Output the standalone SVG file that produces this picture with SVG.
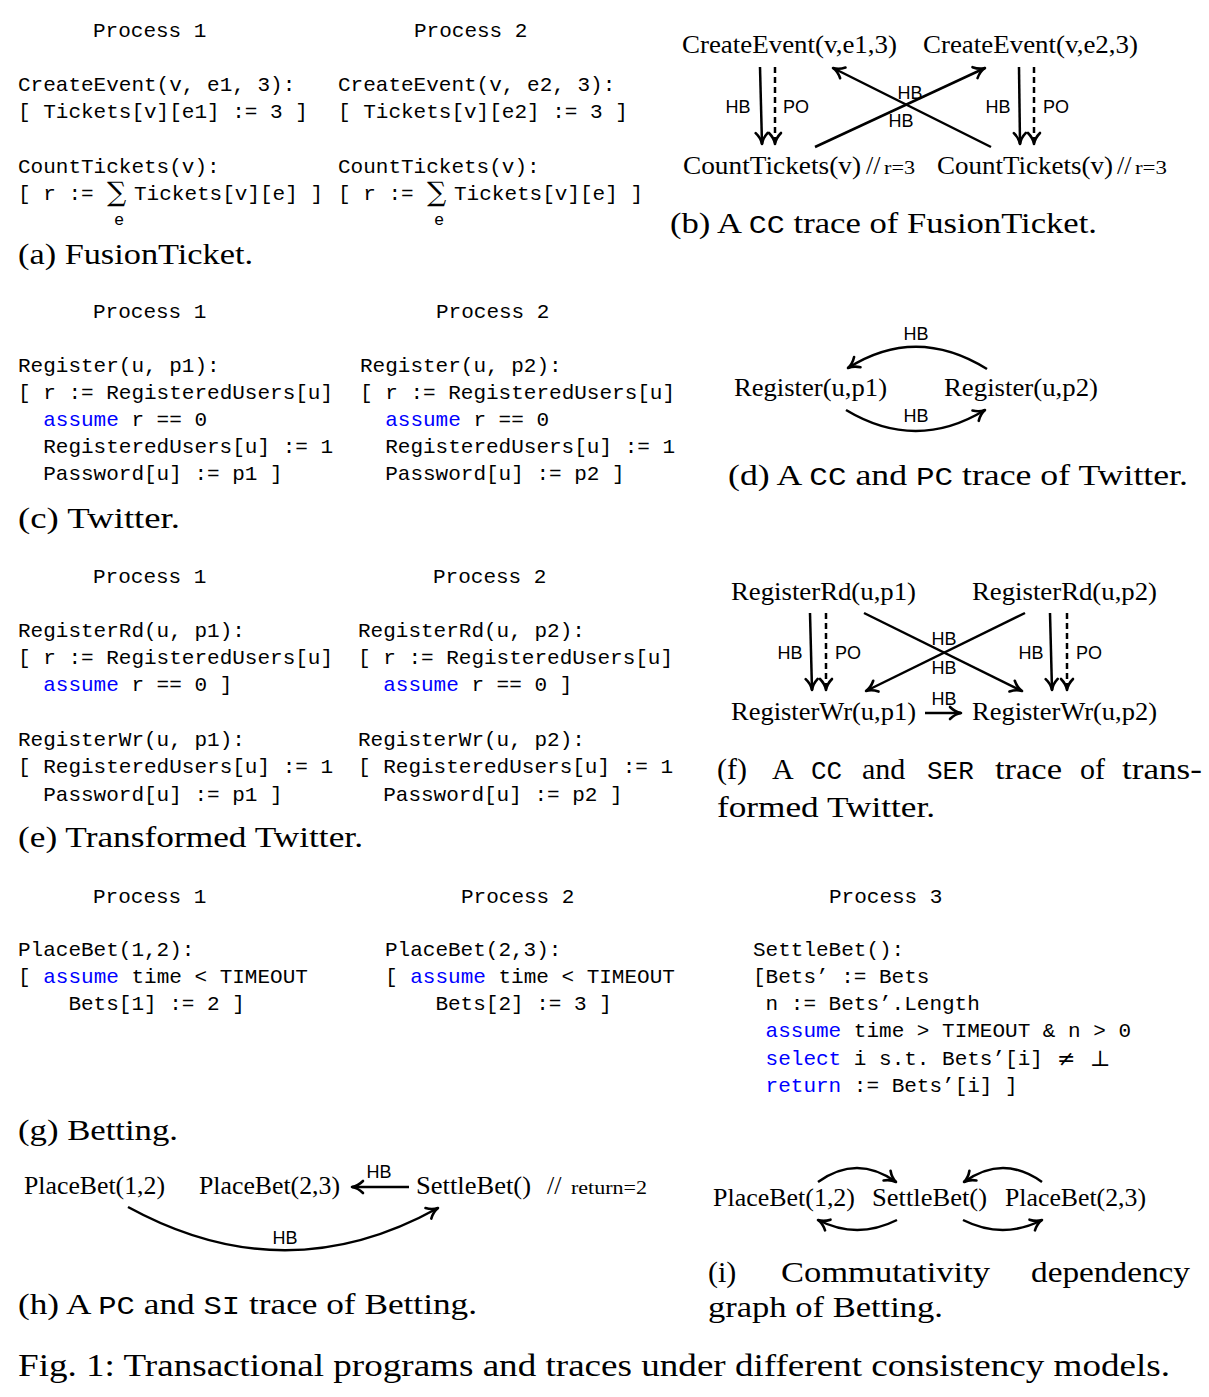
<svg xmlns="http://www.w3.org/2000/svg" width="1209" height="1397" viewBox="0 0 1209 1397" xml:space="preserve">
<style>
.m{font-family:"Liberation Mono",monospace;font-size:21px;fill:#000}
.kw{fill:#0000ff}
.s{font-family:"Liberation Serif",serif;fill:#000}
.cap{font-family:"Liberation Serif",serif;font-size:30px;fill:#000}
.mc{font-family:"Liberation Mono",monospace;font-size:26px}
.n{font-family:"Liberation Serif",serif;font-size:26px;fill:#000}
.lb{font-family:"Liberation Sans",sans-serif;font-size:18px;fill:#000;text-anchor:middle}
.sum{font-family:"DejaVu Serif",serif;font-size:27px;fill:#000}
.e{fill:none;stroke:#000;stroke-width:2.5;marker-end:url(#ah)}
.d{stroke-dasharray:6 4}
</style>
<defs>
<marker id="ah" markerUnits="userSpaceOnUse" markerWidth="16" markerHeight="16" viewBox="0 0 16 16" refX="14" refY="8" orient="auto">
<path d="M3,2 Q8,7 14,8 Q8,9 3,14" fill="none" stroke="#000" stroke-width="2.6" stroke-linecap="round" stroke-linejoin="round"/>
</marker>
</defs>
<rect width="1209" height="1397" fill="#fff"/>

<!-- (a) FusionTicket code -->
<g id="a-code">
<text class="m" x="93" y="37">Process 1</text>
<text class="m" x="414" y="37">Process 2</text>
<text class="m" x="18" y="91">CreateEvent(v, e1, 3):</text>
<text class="m" x="18" y="118">[ Tickets[v][e1] := 3 ]</text>
<text class="m" x="18" y="173">CountTickets(v):</text>
<text class="m" x="18" y="200">[ r := </text>
<text class="sum" x="107" y="201">∑</text>
<text class="m" x="134" y="200">Tickets[v][e] ]</text>
<text class="m" x="114" y="225" style="font-size:17px">e</text>
<text class="m" x="338" y="91">CreateEvent(v, e2, 3):</text>
<text class="m" x="338" y="118">[ Tickets[v][e2] := 3 ]</text>
<text class="m" x="338" y="173">CountTickets(v):</text>
<text class="m" x="338" y="200">[ r := </text>
<text class="sum" x="427" y="201">∑</text>
<text class="m" x="454" y="200">Tickets[v][e] ]</text>
<text class="m" x="434" y="225" style="font-size:17px">e</text>
<text class="cap" x="18" y="264" textLength="235" lengthAdjust="spacingAndGlyphs">(a) FusionTicket.</text>
</g>

<!-- (b) trace nodes -->
<g id="b-ce1"><text class="n" x="682" y="53" textLength="215" lengthAdjust="spacingAndGlyphs">CreateEvent(v,e1,3)</text></g>
<g id="b-ce2"><text class="n" x="923" y="53" textLength="215" lengthAdjust="spacingAndGlyphs">CreateEvent(v,e2,3)</text></g>
<g id="b-ct1"><text class="n" x="683" y="174" textLength="178" lengthAdjust="spacingAndGlyphs">CountTickets(v)</text><text class="n" x="866" y="174">//</text><text class="s" x="884" y="174" style="font-size:18px" textLength="31" lengthAdjust="spacingAndGlyphs">r=3</text></g>
<g id="b-ct2"><text class="n" x="937" y="174" textLength="176" lengthAdjust="spacingAndGlyphs">CountTickets(v)</text><text class="n" x="1117" y="174">//</text><text class="s" x="1135" y="174" style="font-size:18px" textLength="32" lengthAdjust="spacingAndGlyphs">r=3</text></g>
<g id="b-caption"><text class="cap" x="670" y="233" textLength="427" lengthAdjust="spacingAndGlyphs">(b) A <tspan class="mc">CC</tspan> trace of FusionTicket.</text></g>

<!-- (c) Twitter code -->
<g id="c-code">
<text class="m" x="93" y="318">Process 1</text>
<text class="m" x="436" y="318">Process 2</text>
<text class="m" x="18" y="372">Register(u, p1):</text>
<text class="m" x="18" y="399">[ r := RegisteredUsers[u]</text>
<text class="m" x="43.2" y="426"><tspan class="kw">assume</tspan> r == 0</text>
<text class="m" x="43.2" y="453">RegisteredUsers[u] := 1</text>
<text class="m" x="43.2" y="480">Password[u] := p1 ]</text>
<text class="m" x="360" y="372">Register(u, p2):</text>
<text class="m" x="360" y="399">[ r := RegisteredUsers[u]</text>
<text class="m" x="385.2" y="426"><tspan class="kw">assume</tspan> r == 0</text>
<text class="m" x="385.2" y="453">RegisteredUsers[u] := 1</text>
<text class="m" x="385.2" y="480">Password[u] := p2 ]</text>
<text class="cap" x="18" y="528" textLength="162" lengthAdjust="spacingAndGlyphs">(c) Twitter.</text>
</g>

<!-- (d) trace nodes -->
<g id="d-r1"><text class="n" x="734" y="396" textLength="153" lengthAdjust="spacingAndGlyphs">Register(u,p1)</text></g>
<g id="d-r2"><text class="n" x="944" y="396" textLength="154" lengthAdjust="spacingAndGlyphs">Register(u,p2)</text></g>
<g id="d-caption"><text class="cap" x="728" y="485" textLength="460" lengthAdjust="spacingAndGlyphs">(d) A <tspan class="mc">CC</tspan> and <tspan class="mc">PC</tspan> trace of Twitter.</text></g>

<!-- (e) Transformed Twitter code -->
<g id="e-code">
<text class="m" x="93" y="583">Process 1</text>
<text class="m" x="433" y="583">Process 2</text>
<text class="m" x="18" y="637">RegisterRd(u, p1):</text>
<text class="m" x="18" y="664">[ r := RegisteredUsers[u]</text>
<text class="m" x="43.2" y="691"><tspan class="kw">assume</tspan> r == 0 ]</text>
<text class="m" x="18" y="746">RegisterWr(u, p1):</text>
<text class="m" x="18" y="773">[ RegisteredUsers[u] := 1</text>
<text class="m" x="43.2" y="801">Password[u] := p1 ]</text>
<text class="m" x="358" y="637">RegisterRd(u, p2):</text>
<text class="m" x="358" y="664">[ r := RegisteredUsers[u]</text>
<text class="m" x="383.2" y="691"><tspan class="kw">assume</tspan> r == 0 ]</text>
<text class="m" x="358" y="746">RegisterWr(u, p2):</text>
<text class="m" x="358" y="773">[ RegisteredUsers[u] := 1</text>
<text class="m" x="383.2" y="801">Password[u] := p2 ]</text>
<text class="cap" x="18" y="847" textLength="345" lengthAdjust="spacingAndGlyphs">(e) Transformed Twitter.</text>
</g>

<!-- (f) trace nodes -->
<g id="f-rd1"><text class="n" x="731" y="600" textLength="185" lengthAdjust="spacingAndGlyphs">RegisterRd(u,p1)</text></g>
<g id="f-rd2"><text class="n" x="972" y="600" textLength="185" lengthAdjust="spacingAndGlyphs">RegisterRd(u,p2)</text></g>
<g id="f-wr1"><text class="n" x="731" y="720" textLength="185" lengthAdjust="spacingAndGlyphs">RegisterWr(u,p1)</text></g>
<g id="f-wr2"><text class="n" x="972" y="720" textLength="185" lengthAdjust="spacingAndGlyphs">RegisterWr(u,p2)</text></g>
<g id="f-caption">
<text class="cap" y="779"><tspan x="717">(f)</tspan><tspan x="772">A</tspan><tspan x="811" class="mc">CC</tspan><tspan x="862">and</tspan><tspan x="927" class="mc">SER</tspan><tspan x="995" textLength="67" lengthAdjust="spacingAndGlyphs">trace</tspan><tspan x="1080">of</tspan><tspan x="1122" textLength="80" lengthAdjust="spacingAndGlyphs">trans-</tspan></text>
<text class="cap" x="717" y="817" textLength="218" lengthAdjust="spacingAndGlyphs">formed Twitter.</text>
</g>

<!-- (g) Betting code -->
<g id="g-code">
<text class="m" x="93" y="903">Process 1</text>
<text class="m" x="461" y="903">Process 2</text>
<text class="m" x="829" y="903">Process 3</text>
<text class="m" x="18" y="956">PlaceBet(1,2):</text>
<text class="m" x="18" y="983">[ <tspan class="kw">assume</tspan> time &lt; TIMEOUT</text>
<text class="m" x="68.4" y="1010">Bets[1] := 2 ]</text>
<text class="m" x="385" y="956">PlaceBet(2,3):</text>
<text class="m" x="385" y="983">[ <tspan class="kw">assume</tspan> time &lt; TIMEOUT</text>
<text class="m" x="435.4" y="1010">Bets[2] := 3 ]</text>
<text class="m" x="753" y="956">SettleBet():</text>
<text class="m" x="753" y="983">[Bets’ := Bets</text>
<text class="m" x="765.6" y="1010">n := Bets’.Length</text>
<text class="m" x="765.6" y="1037"><tspan class="kw">assume</tspan> time &gt; TIMEOUT &amp; n &gt; 0</text>
<text class="m" x="765.6" y="1065"><tspan class="kw">select</tspan> i s.t. Bets’[i]</text>
<text class="s" x="1057" y="1066" style="font-family:'DejaVu Serif',serif;font-size:22px">≠</text>
<text class="s" x="1090" y="1066" style="font-family:'DejaVu Serif',serif;font-size:22px">⊥</text>
<text class="m" x="765.6" y="1092"><tspan class="kw">return</tspan> := Bets’[i] ]</text>
<text class="cap" x="18" y="1140" textLength="160" lengthAdjust="spacingAndGlyphs">(g) Betting.</text>
</g>

<!-- (h) trace nodes -->
<g id="h-pb12"><text class="n" x="24" y="1194" textLength="141" lengthAdjust="spacingAndGlyphs">PlaceBet(1,2)</text></g>
<g id="h-pb23"><text class="n" x="199" y="1194" textLength="141" lengthAdjust="spacingAndGlyphs">PlaceBet(2,3)</text></g>
<g id="h-sb"><text class="n" x="416" y="1194" textLength="115" lengthAdjust="spacingAndGlyphs">SettleBet()</text><text class="n" x="547" y="1194">//</text><text class="s" x="571" y="1194" style="font-size:19px" textLength="76" lengthAdjust="spacingAndGlyphs">return=2</text></g>
<g id="h-caption"><text class="cap" x="18" y="1314" textLength="459" lengthAdjust="spacingAndGlyphs">(h) A <tspan class="mc">PC</tspan> and <tspan class="mc">SI</tspan> trace of Betting.</text></g>

<!-- (i) graph nodes -->
<g id="i-pb12"><text class="n" x="713" y="1206" textLength="142" lengthAdjust="spacingAndGlyphs">PlaceBet(1,2)</text></g>
<g id="i-sb"><text class="n" x="872" y="1206" textLength="115" lengthAdjust="spacingAndGlyphs">SettleBet()</text></g>
<g id="i-pb23"><text class="n" x="1005" y="1206" textLength="141" lengthAdjust="spacingAndGlyphs">PlaceBet(2,3)</text></g>
<g id="i-caption">
<text class="cap" y="1282"><tspan x="708">(i)</tspan><tspan x="781" textLength="209" lengthAdjust="spacingAndGlyphs">Commutativity</tspan><tspan x="1031" textLength="159" lengthAdjust="spacingAndGlyphs">dependency</tspan></text>
<text class="cap" x="708" y="1317" textLength="235" lengthAdjust="spacingAndGlyphs">graph of Betting.</text>
</g>

<g id="fig-caption"><text class="cap" x="18" y="1376" style="font-size:32px" textLength="1152" lengthAdjust="spacingAndGlyphs">Fig. 1: Transactional programs and traces under different consistency models.</text></g>

<!-- connectors -->
<g id="connectors">
<!-- (b) -->
<line class="e" x1="760" y1="67" x2="762" y2="144"/>
<line class="e d" x1="775" y1="67" x2="775" y2="144"/>
<line class="e" x1="1019" y1="67" x2="1020" y2="144"/>
<line class="e d" x1="1034" y1="67" x2="1034" y2="144"/>
<line class="e" x1="991" y1="147" x2="833" y2="68"/>
<line class="e" x1="815" y1="147" x2="985" y2="68"/>
<text class="lb" x="738" y="113">HB</text>
<text class="lb" x="796" y="113">PO</text>
<text class="lb" x="998" y="113">HB</text>
<text class="lb" x="1056" y="113">PO</text>
<text class="lb" x="910" y="99">HB</text>
<text class="lb" x="901" y="127">HB</text>
<!-- (d) -->
<path class="e" d="M987,369 Q916,325 848,368"/>
<path class="e" d="M846,410 Q916,452 985,410"/>
<text class="lb" x="916" y="340">HB</text>
<text class="lb" x="916" y="422">HB</text>
<!-- (f) -->
<line class="e" x1="810" y1="613" x2="812" y2="690"/>
<line class="e d" x1="826" y1="613" x2="826" y2="690"/>
<line class="e" x1="1050" y1="613" x2="1052" y2="690"/>
<line class="e d" x1="1067" y1="613" x2="1067" y2="690"/>
<line class="e" x1="864" y1="613" x2="1022" y2="691"/>
<line class="e" x1="1025" y1="613" x2="866" y2="691"/>
<line class="e" x1="925" y1="713" x2="961" y2="713"/>
<text class="lb" x="790" y="659">HB</text>
<text class="lb" x="848" y="659">PO</text>
<text class="lb" x="1031" y="659">HB</text>
<text class="lb" x="1089" y="659">PO</text>
<text class="lb" x="944" y="645">HB</text>
<text class="lb" x="944" y="674">HB</text>
<text class="lb" x="944" y="705">HB</text>
<!-- (h) -->
<line class="e" x1="409" y1="1187" x2="352" y2="1187"/>
<path class="e" d="M128,1207 Q285,1293 438,1208"/>
<text class="lb" x="379" y="1178">HB</text>
<text class="lb" x="285" y="1244">HB</text>
<!-- (i) -->
<path class="e" d="M818,1182 Q857,1154 896,1182"/>
<path class="e" d="M1042,1182 Q1003,1154 964,1182"/>
<path class="e" d="M897,1220 Q857,1240 818,1220"/>
<path class="e" d="M963,1220 Q1003,1240 1042,1220"/>
</g>
</svg>
